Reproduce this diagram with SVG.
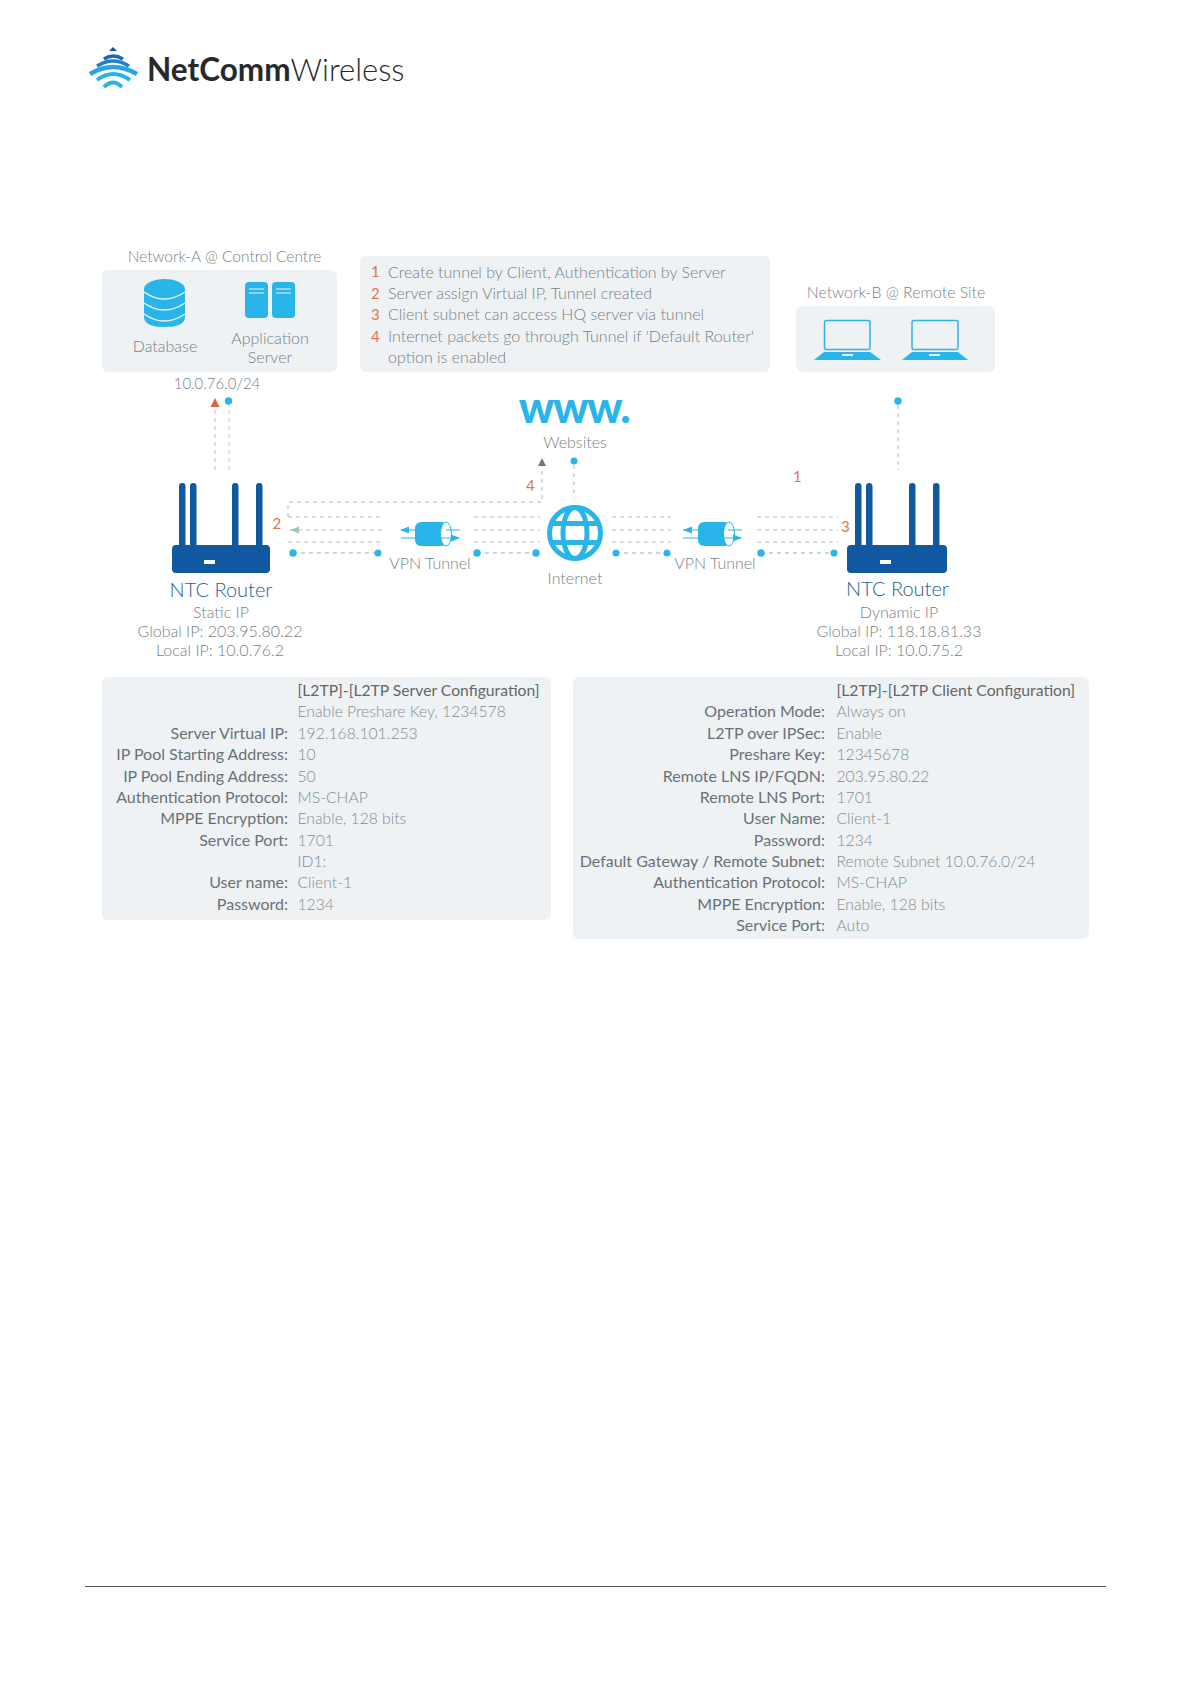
<svg xmlns="http://www.w3.org/2000/svg" width="1191" height="1684" viewBox="0 0 1191 1684">
<style>
text{font-family:"Lato","Open Sans","Liberation Sans",sans-serif;fill:#777f84}
.p{fill:#eef2f5}
.t{font-size:16px;font-weight:300}
.e{text-anchor:end;fill:#6a7175;font-size:16px}
.v{font-size:15.700px;fill:#858c90;font-weight:300}
.m{text-anchor:middle}
.o{fill:#e0764a;font-size:15px}
.b{fill:#29b5ea}
.r{fill:#10589f}
.d{fill:none;stroke:#b4b8bb;stroke-width:1;stroke-dasharray:4 4}
.g{fill:none;stroke:#7dbfbb;stroke-width:1;stroke-dasharray:4 4}
.l{fill:none;stroke:#29b5ea}
.w{fill:none;stroke:#29b5ea;stroke-width:5}
</style>
<rect width="1191" height="1684" fill="#fff"/>
<g id="logo">
<path class="r" d="M109 51l4-4 4 4z"/>
<g fill="none" stroke-linecap="butt">
<path d="M104 59Q113 53 123 59" stroke="#1a6cb0" stroke-width="3.500"/>
<path d="M97 66Q113 56 129 66" stroke="#1f80c8" stroke-width="3.500"/>
<path d="M90 74Q113 60 137 74" stroke="#29a5e0" stroke-width="4.500"/>
<path d="M97 80Q113 68 130 80" stroke="#29b5ea" stroke-width="4"/>
<path d="M104 87Q113 78 122 87" stroke="#29b5ea" stroke-width="4"/>
</g>
<text x="147" y="81" style="font-size:31.500px;font-weight:700;fill:#26292b">NetComm<tspan style="font-weight:300;font-size:31px">Wireless</tspan></text>
</g>
<g id="network-a">
<rect class="p" x="102" y="270" width="235" height="102" rx="6"/>
<text class="m t" x="224.500" y="262" style="font-size:15.500px">Network-A @ Control Centre</text>
<g id="database"><ellipse class="b" cx="164.500" cy="289" rx="20.500" ry="10"/><path class="b" d="M144 289v28q0 10 20.500 10t20.500-10v-28z"/><path d="M144 292q20 14 41 0M144 303q20 14 41 0M144 314q20 14 41 0" fill="none" stroke="#eef2f5" stroke-width="1.500"/></g>
<text class="m t" x="165" y="352">Database</text>
<g id="app-server"><rect class="b" x="245" y="282" width="23" height="36" rx="4"/><rect class="b" x="272" y="282" width="23" height="36" rx="4"/><path d="M249 289h15M249 293h15M276 289h15M276 293h15" stroke="#eef2f5"/></g>
<text class="m t" x="270" y="344">Application</text><text class="m t" x="270" y="363">Server</text>
</g>
<text class="m t" x="217" y="389" style="font-size:15px">10.0.76.0/24</text>
<g id="steps">
<rect class="p" x="360" y="256" width="410" height="116" rx="6"/>
<text class="o" x="371" y="277">1</text><text class="t" x="388" y="278">Create tunnel by Client, Authentication by Server</text>
<text class="o" x="371" y="299">2</text><text class="t" x="388" y="299">Server assign Virtual IP, Tunnel created</text>
<text class="o" x="371" y="320">3</text><text class="t" x="388" y="320">Client subnet can access HQ server via tunnel</text>
<text class="o" x="371" y="342">4</text><text class="t" x="388" y="342">Internet packets go through Tunnel if 'Default Router'</text>
<text class="t" x="388" y="363">option is enabled</text>
</g>
<g id="network-b">
<rect class="p" x="796" y="306" width="199" height="66" rx="6"/>
<text class="m t" x="896" y="298" style="font-size:15.800px">Network-B @ Remote Site</text>
<g id="laptop-1"><rect x="824.500" y="320.500" width="45.500" height="29" rx="2" class="l" stroke-width="1.500"/><path class="b" d="M824 352h46l11 8h-67z"/><rect x="842" y="354" width="11" height="2" fill="#eef2f5"/></g>
<g id="laptop-2"><rect x="912" y="320.500" width="46" height="29" rx="2" class="l" stroke-width="1.500"/><path class="b" d="M912 352h46l10 8h-66z"/><rect x="929" y="354" width="11" height="2" fill="#eef2f5"/></g>
</g>
<g id="websites"><text class="m" x="574" y="423" style="font-size:44px;font-weight:900;fill:#29b5ea;letter-spacing:-1.500px">www.</text><text class="m t" x="575" y="448">Websites</text></g>
<g id="connectors">
<path class="d" stroke="#e8b79e" style="stroke:#e8b79e" d="M215 470V407"/><path class="g" style="stroke:#b5cfc9" d="M229 470V405"/>
<path d="M215 398l4.500 9h-9z" fill="#e0643a"/><circle class="b" cx="228.500" cy="401" r="3.700"/>
<circle class="b" cx="898" cy="401" r="3.700"/><path class="d" d="M898 405V470"/>
<path class="d" d="M288 517V502H542V466"/><path d="M542 458l4 8h-8z" fill="#777"/>
<circle class="b" cx="574" cy="461" r="3.500"/><path class="d" d="M574 465V498"/>
<path class="d" d="M288 517H382M474 517H540M290 530H382M474 530H540M288 542H382M474 542H540"/>
<path class="d" d="M612 517H671M757 517H838M612 530H671M757 530H838M612 542H671M757 542H838"/>
<path d="M290 530l9-3.500v7z" fill="#9cc9c3"/>
<path class="g" d="M293 553H378M477 553H536M616 553H667M761 553H835"/>
<circle class="b" cx="293" cy="553" r="3.700"/><circle class="b" cx="378" cy="553" r="3.500"/><circle class="b" cx="477" cy="553" r="3.700"/><circle class="b" cx="536" cy="553" r="3.700"/>
<circle class="b" cx="616" cy="553" r="3.500"/><circle class="b" cx="667" cy="553" r="3.500"/><circle class="b" cx="761" cy="553" r="3.700"/><circle class="b" cx="834" cy="553" r="3.500"/>
</g>
<g id="router-a">
<rect class="r" x="179" y="483" width="6.500" height="72" rx="3.200"/><rect class="r" x="190" y="483" width="6.500" height="72" rx="3.200"/><rect class="r" x="232" y="483" width="6.500" height="72" rx="3.200"/><rect class="r" x="256" y="483" width="6.500" height="72" rx="3.200"/>
<rect class="r" x="172" y="545" width="98" height="28" rx="4"/><rect x="204" y="560" width="11" height="4" fill="#fff"/>
<text class="m" x="221" y="597" style="font-size:20px;fill:#1f5d96;font-weight:300">NTC Router</text>
<text class="m t" x="221" y="618">Static IP</text><text class="m t" x="220" y="637">Global IP: 203.95.80.22</text><text class="m t" x="220" y="656">Local IP: 10.0.76.2</text>
</g>
<g id="router-b">
<rect class="r" x="855" y="483" width="6.500" height="72" rx="3.200"/><rect class="r" x="866" y="483" width="6.500" height="72" rx="3.200"/><rect class="r" x="909" y="483" width="6.500" height="72" rx="3.200"/><rect class="r" x="933" y="483" width="6.500" height="72" rx="3.200"/>
<rect class="r" x="847" y="545" width="100" height="28" rx="4"/><rect x="880" y="560" width="11" height="4" fill="#fff"/>
<text class="m" x="897.500" y="596" style="font-size:20px;fill:#1f5d96;font-weight:300">NTC Router</text>
<text class="m t" x="899" y="618">Dynamic IP</text><text class="m t" x="899" y="637">Global IP: 118.18.81.33</text><text class="m t" x="899" y="656">Local IP: 10.0.75.2</text>
</g>
<g id="tunnel-a"><rect class="b" x="415" y="522" width="32" height="24" rx="6"/><ellipse cx="446" cy="534" rx="5.500" ry="12" fill="#fff" stroke="#29b5ea"/><path class="l" d="M401 530h18M401 538h58M460 530h-14"/><path class="b" d="M400 530l9-3.500v7zM460 538l-9-3.500v7z"/><text class="m t" x="430" y="569">VPN Tunnel</text></g>
<g id="tunnel-b"><rect class="b" x="698" y="522" width="32" height="24" rx="6"/><ellipse cx="729" cy="534" rx="5.500" ry="12" fill="#fff" stroke="#29b5ea"/><path class="l" d="M683 530h18M683 538h58M742 530h-14"/><path class="b" d="M683 530l9-3.500v7zM742 538l-9-3.500v7z"/><text class="m t" x="715" y="569">VPN Tunnel</text></g>
<g id="internet"><circle class="w" cx="575" cy="533" r="25.500"/><ellipse class="w" cx="575" cy="533" rx="12" ry="25.500"/><path class="w" d="M550 523.500h50M550 542.500h50"/><text class="m t" x="575" y="584">Internet</text></g>
<text class="o" x="272.500" y="529">2</text><text class="o" x="526" y="491">4</text><text class="o" x="793" y="482">1</text><text class="o" x="841" y="532">3</text>
<g id="server-config">
<rect class="p" x="102" y="677" width="449" height="243" rx="6"/>
<text class="v" x="297.500" y="696" style="fill:#666;font-weight:400">[L2TP]-[L2TP Server Configuration]</text>
<text class="v" x="297.500" y="717">Enable Preshare Key, 1234578</text>
<text class="e" x="288" y="739">Server Virtual IP:</text><text class="v" x="297.500" y="739">192.168.101.253</text>
<text class="e" x="288" y="760">IP Pool Starting Address:</text><text class="v" x="297.500" y="760">10</text>
<text class="e" x="288" y="782">IP Pool Ending Address:</text><text class="v" x="297.500" y="782">50</text>
<text class="e" x="288" y="803">Authentication Protocol:</text><text class="v" x="297.500" y="803">MS-CHAP</text>
<text class="e" x="288" y="824">MPPE Encryption:</text><text class="v" x="297.500" y="824">Enable, 128 bits</text>
<text class="e" x="288" y="846">Service Port:</text><text class="v" x="297.500" y="846">1701</text>
<text class="v" x="297.500" y="867">ID1:</text>
<text class="e" x="288" y="888">User name:</text><text class="v" x="297.500" y="888">Client-1</text>
<text class="e" x="288" y="910">Password:</text><text class="v" x="297.500" y="910">1234</text>
</g>
<g id="client-config">
<rect class="p" x="573" y="677" width="516" height="262" rx="6"/>
<text class="v" x="836.500" y="696" style="fill:#666;font-weight:400">[L2TP]-[L2TP Client Configuration]</text>
<text class="e" x="825" y="717">Operation Mode:</text><text class="v" x="836.500" y="717">Always on</text>
<text class="e" x="825" y="739">L2TP over IPSec:</text><text class="v" x="836.500" y="739">Enable</text>
<text class="e" x="825" y="760">Preshare Key:</text><text class="v" x="836.500" y="760">12345678</text>
<text class="e" x="825" y="782">Remote LNS IP/FQDN:</text><text class="v" x="836.500" y="782">203.95.80.22</text>
<text class="e" x="825" y="803">Remote LNS Port:</text><text class="v" x="836.500" y="803">1701</text>
<text class="e" x="825" y="824">User Name:</text><text class="v" x="836.500" y="824">Client-1</text>
<text class="e" x="825" y="846">Password:</text><text class="v" x="836.500" y="846">1234</text>
<text class="e" x="825" y="867">Default Gateway / Remote Subnet:</text><text class="v" x="836.500" y="867">Remote Subnet 10.0.76.0/24</text>
<text class="e" x="825" y="888">Authentication Protocol:</text><text class="v" x="836.500" y="888">MS-CHAP</text>
<text class="e" x="825" y="910">MPPE Encryption:</text><text class="v" x="836.500" y="910">Enable, 128 bits</text>
<text class="e" x="825" y="931">Service Port:</text><text class="v" x="836.500" y="931">Auto</text>
</g>
<path id="footer-rule" d="M85 1586.500H1106" stroke="#555" stroke-width="1"/>
</svg>
